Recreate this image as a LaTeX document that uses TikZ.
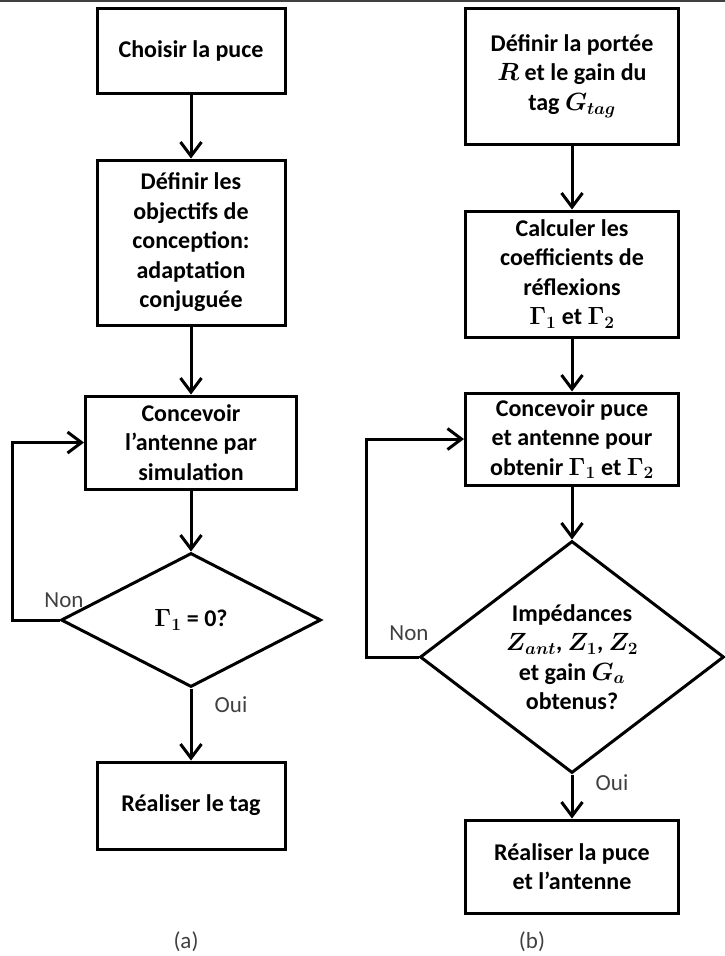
\documentclass[tikz,border=0pt]{standalone}
\usepackage{amsmath}
\usepackage{fontspec}
\setmainfont{Carlito}
\usetikzlibrary{shapes.geometric,arrows.meta}

\begin{document}
\begin{tikzpicture}[x=1pt,y=-1pt,
  box/.style={draw,line width=3pt,align=center,inner sep=0pt,
    font=\fontsize{24}{29.5}\selectfont\bfseries\boldmath},
  decision/.style={box,diamond,aspect=1.3},
  flow/.style={line width=3pt,-{Straight Barb[length=14pt,width=21pt]}},
  lbl/.style={text=black!75,font=\fontsize{23}{27}\selectfont}]
\useasboundingbox (0,0) rectangle (725,956);
\draw[black!75,line width=1.5pt] (0,0.8) -- (725,0.8);

\node[box,minimum width=188pt,minimum height=85pt] (choix) at (191,50.5) {Choisir la puce};
\node[box,minimum width=188pt,minimum height=165pt] (objectifs) at (191,242.5)
  {D\'efinir les\\ objectifs de\\ conception:\\ adaptation\\ conjugu\'ee};
\node[box,minimum width=211pt,minimum height=93pt] (simu) at (191,442.5)
  {Concevoir\\ l’antenne par\\ simulation};
\node[decision,minimum width=260pt,minimum height=134pt] (test) at (191,620) {$\Gamma_1$ = 0?};
\node[box,minimum width=188pt,minimum height=87pt] (tag) at (191,805.5) {R\'ealiser le tag};

\draw[flow] (choix) -- (objectifs);
\draw[flow] (objectifs) -- (simu);
\draw[flow] (simu) -- (test);
\draw[flow] (test) -- (tag);
\draw[flow] (test.west) -- ++(-47,0) |- (simu.west);
\node[lbl] (nonA) at (64,600) {Non};
\node[lbl] (ouiA) at (231,705) {Oui};
\node[lbl] (capA) at (186,942) {(a)};

\node[box,minimum width=213pt,minimum height=136pt] (portee) at (572,76)
  {D\'efinir la port\'ee\\ $R$ et le gain du\\ tag $G_{tag}$};
\node[box,minimum width=213pt,minimum height=126pt] (coeffs) at (572,274)
  {Calculer les\\ coefficients de\\ r\'eflexions\\ $\Gamma_1$ et $\Gamma_2$};
\node[box,minimum width=213pt,minimum height=92pt] (conception) at (572,439)
  {Concevoir puce\\ et antenne pour\\ obtenir $\Gamma_1$ et $\Gamma_2$};
\node[decision,minimum width=304pt,minimum height=232pt] (verif) at (572,657)
  {Imp\'edances\\ $Z_{ant}$, $Z_1$, $Z_2$\\ et gain $G_a$\\ obtenus?};
\node[box,minimum width=213pt,minimum height=93pt] (realise) at (572,866.5)
  {R\'ealiser la puce\\ et l’antenne};

\draw[flow] (portee) -- (coeffs);
\draw[flow] (coeffs) -- (conception);
\draw[flow] (conception) -- (verif);
\draw[flow] (verif) -- (realise);
\draw[flow] (verif.west) -- ++(-52,0) |- (conception.west);
\node[lbl] (nonB) at (409,633) {Non};
\node[lbl] (ouiB) at (612,783) {Oui};
\node[lbl] (capB) at (532,942) {(b)};
\end{tikzpicture}
\end{document}
